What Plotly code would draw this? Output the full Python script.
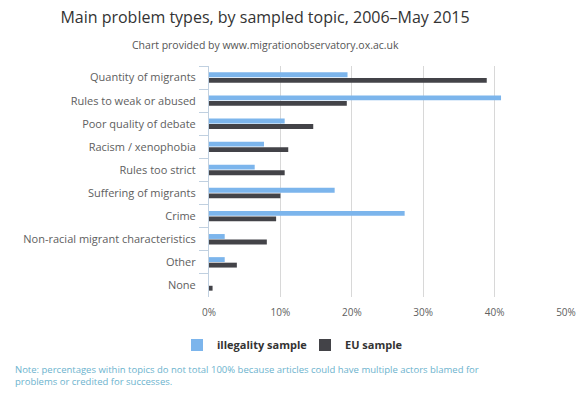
import plotly.graph_objects as go

categories = ["Quantity of migrants", "Rules to weak or abused", "Poor quality of debate",
              "Racism / xenophobia", "Rules too strict", "Suffering of migrants", "Crime",
              "Non-racial migrant characteristics", "Other", "None"]
illegality = [19.4, 40.9, 10.6, 7.7, 6.4, 17.6, 27.4, 2.2, 2.2, 0.0]
eu = [38.9, 19.3, 14.6, 11.1, 10.6, 10.0, 9.4, 8.1, 3.9, 0.5]
x_ticks = [0, 10, 20, 30, 40, 50]
x_tick_labels = ["0%", "10%", "20%", "30%", "40%", "50%"]

FONT = "Open Sans, DejaVu Sans, sans-serif"
L, R, T, B = 209, 16, 66, 97
PW, PH = 582 - L - R, 394 - T - B

def px_x(x):
    return (x - L) / PW

def px_y(y):
    return (394 - B - y) / PH

fig = go.Figure()
fig.add_trace(go.Bar(y=categories, x=illegality, orientation="h", name="illegality sample",
                     marker=dict(color="#7cb5ec", line=dict(width=0))))
fig.add_trace(go.Bar(y=categories, x=eu, orientation="h", name="EU sample",
                     marker=dict(color="#434348", line=dict(width=0))))

fig.update_layout(
    width=582, height=394,
    margin=dict(l=L, r=R, t=T, b=B, autoexpand=False),
    paper_bgcolor="white", plot_bgcolor="white",
    barmode="group", bargap=0.52, bargroupgap=0.12,
    font=dict(family=FONT, size=11, color="#606060"),
    title=dict(text="Main problem types, by sampled topic, 2006–May 2015",
               xref="paper", x=px_x(265), xanchor="center", y=1 - 17 / 394, yanchor="middle",
               font=dict(family=FONT, size=16, color="#333333")),
    showlegend=True,
    legend=dict(orientation="h", x=px_x(177), xanchor="left", y=px_y(345), yanchor="middle",
                font=dict(family=FONT, size=11, color="#333333", weight="bold"),
                itemwidth=30, traceorder="normal", itemsizing="constant",
                entrywidthmode="pixels", entrywidth=83),
    xaxis=dict(range=[0, 50], tickvals=x_ticks, ticktext=x_tick_labels, automargin=False,
               showgrid=True, gridcolor="#d8d8d8", gridwidth=1, zeroline=False,
               showline=False, ticks="", ticklabelstandoff=8,
               tickfont=dict(size=10, color="#606060")),
    yaxis=dict(autorange="reversed", tickson="boundaries", ticks="outside", ticklen=9,
               automargin=False, ticklabelstandoff=10,
               tickcolor="#c0d0e0", showline=True, linecolor="#c0d0e0", linewidth=1,
               showgrid=False, tickfont=dict(size=11, color="#606060")),
)

fig.add_annotation(text="Chart provided by www.migrationobservatory.ox.ac.uk",
                   xref="paper", yref="paper", x=px_x(265), xanchor="center",
                   y=px_y(45), yanchor="middle",
                   showarrow=False, font=dict(family=FONT, size=10.5, color="#555555"))

fig.add_annotation(text="Note: percentages within topics do not total 100% because articles could have multiple actors blamed for<br>problems or credited for successes.",
                   xref="paper", yref="paper", x=px_x(13), xanchor="left",
                   y=px_y(375), yanchor="middle", align="left",
                   showarrow=False, font=dict(family=FONT, size=9.5, color="#6cb3ce"))

fig.write_html("out.html", config={"displayModeBar": False},
               post_script="document.body.style.margin='0';document.body.style.padding='0';")
